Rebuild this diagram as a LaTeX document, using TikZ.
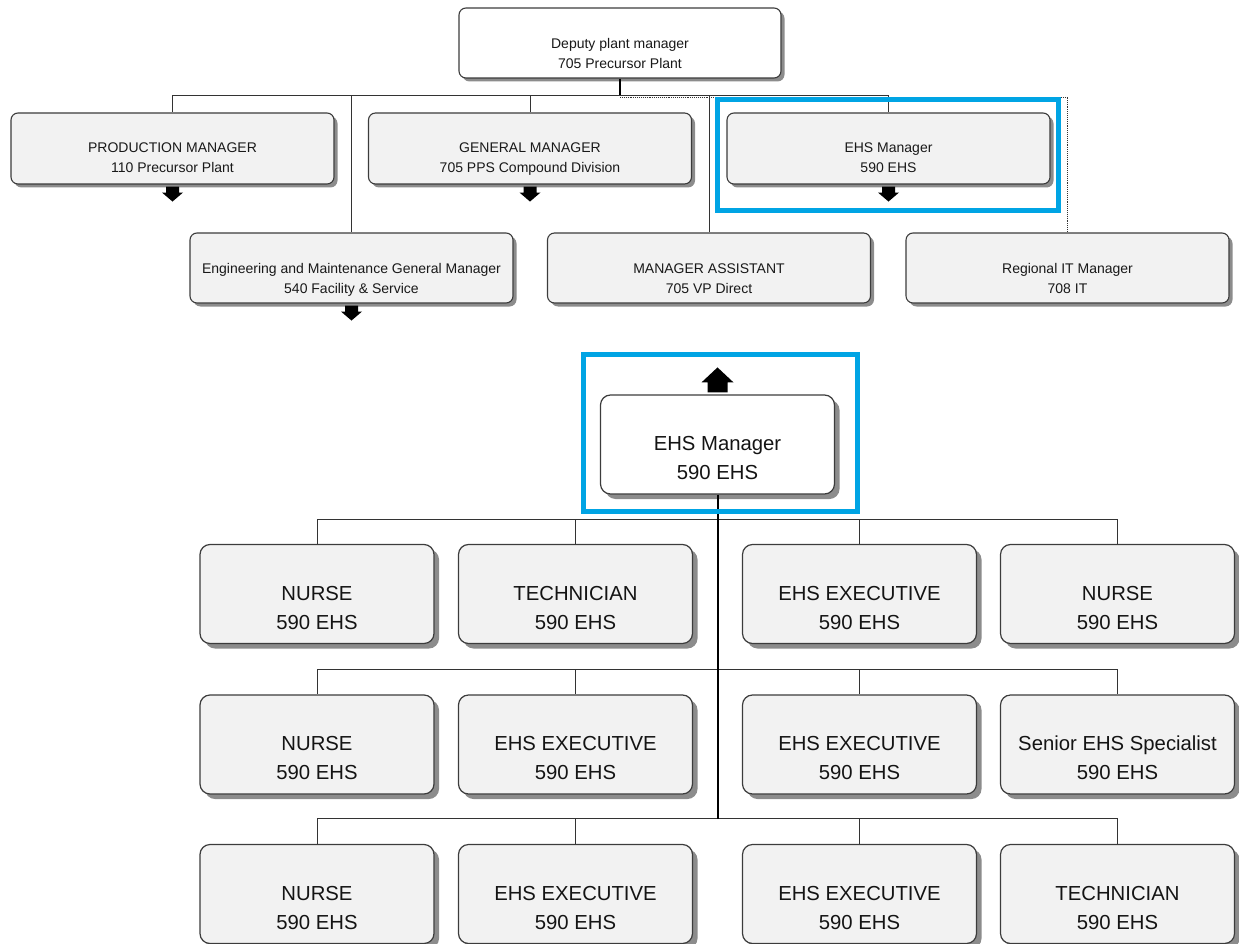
\documentclass[tikz,border=0pt]{standalone}
\usepackage{fontspec}
\setmainfont{Liberation Sans}
\usetikzlibrary{shadows}
\definecolor{hl}{RGB}{0,164,228}
\definecolor{boxfill}{RGB}{242,242,242}
\definecolor{boxline}{RGB}{60,60,60}
\begin{document}
\begin{tikzpicture}[x=1pt,y=-1pt,
  smallcard/.style={draw=boxline, line width=1.1pt, fill=boxfill, rounded corners=7pt, inner sep=0pt,
    minimum width=323pt, minimum height=71pt,
    drop shadow={shadow xshift=3.5pt, shadow yshift=-3.5pt, fill=black!45, opacity=1}},
  bigcard/.style={draw=boxline, line width=1.2pt, fill=boxfill, rounded corners=10pt, inner sep=0pt,
    minimum width=234pt, minimum height=99pt,
    drop shadow={shadow xshift=5pt, shadow yshift=-5pt, fill=black!45, opacity=1}},
  stxt/.style={font=\fontsize{14}{20}\selectfont, align=center, text=black!90, inner sep=0pt, text height=10pt, text depth=3pt},
  btxt/.style={font=\fontsize{20.3}{29}\selectfont, align=center, text=black!92, inner sep=0pt, text height=15pt, text depth=4pt},
  link/.style={draw=black!80, line width=0.9pt},
  trunk/.style={draw=black, line width=2pt},
  hlbox/.style={draw=hl, line width=5pt},
  downarr/.pic={\fill[black] (-6.5,0) -- (6.5,0) -- (6.5,6) -- (10.5,6) -- (0,15) -- (-10.5,6) -- (-6.5,6) -- cycle;},
  uparr/.pic={\fill[black] (-10,0) -- (10,0) -- (10,-10) -- (16,-10) -- (0,-25) -- (-16,-10) -- (-10,-10) -- cycle;}
]
\useasboundingbox (0,0) rectangle (1239,944);

% ---------- top chart ----------
\node[smallcard, fill=white, minimum width=322pt, minimum height=70pt] (dep) at (620,43) {};
\node[stxt] (depT) at ([yshift=-22pt]dep.center) {Deputy plant manager\\705 Precursor Plant};

\node[smallcard] (prod) at (172.5,148.5) {};
\node[stxt] (prodT) at ([yshift=-21pt]prod.center) {PRODUCTION MANAGER\\110 Precursor Plant};
\node[smallcard] (gen) at (530,148.5) {};
\node[stxt] (genT) at ([yshift=-21pt]gen.center) {GENERAL MANAGER\\705 PPS Compound Division};
\node[smallcard] (ehsA) at (888.5,148.5) {};
\node[stxt] (ehsAT) at ([yshift=-21pt]ehsA.center) {EHS Manager\\590 EHS};

\node[smallcard, minimum height=70pt] (eng) at (351.5,268) {};
\node[stxt] (engT) at ([yshift=-22pt]eng.center) {Engineering and Maintenance General Manager\\540 Facility \& Service};
\node[smallcard, minimum height=70pt] (ma) at (709,268) {};
\node[stxt] (maT) at ([yshift=-22pt]ma.center) {MANAGER ASSISTANT\\705 VP Direct};
\node[smallcard, minimum height=70pt] (it) at (1067.5,268) {};
\node[stxt] (itT) at ([yshift=-22pt]it.center) {Regional IT Manager\\708 IT};

\draw[trunk, line width=1.6pt] (dep.south) -- ++(0,17) coordinate (j0);
\draw[link] (j0) -| (prod.north);
\draw[link] (j0) -| (gen.north);
\draw[link] (j0) -| (ehsA.north);
\draw[link] (j0) -| (eng.north);
\draw[link] (j0) -| (ma.north);
\draw[link, densely dotted] ([yshift=-1.5pt]j0) -| (it.north);

\pic at ([yshift=-2pt]prod.south) {downarr};
\pic at ([yshift=-2pt]gen.south) {downarr};
\pic at ([yshift=-2pt]ehsA.south) {downarr};
\pic at ([yshift=-2pt]eng.south) {downarr};

\draw[hlbox] (717,100) rectangle (1058,211);

% ---------- bottom chart ----------
\node[bigcard, fill=white] (ehsB) at (717.5,444.5) {};
\node[btxt] (ehsBT) at ([yshift=-29.5pt]ehsB.center) {EHS Manager\\590 EHS};
\pic at ([yshift=2pt]ehsB.north) {uparr};

% row A
\node[bigcard] (a1) at (317,594) {};
\node[btxt] (a1T) at ([yshift=-29.5pt]a1.center) {NURSE\\590 EHS};
\node[bigcard] (a2) at (575.5,594) {};
\node[btxt] (a2T) at ([yshift=-29.5pt]a2.center) {TECHNICIAN\\590 EHS};
\node[bigcard] (a3) at (859.5,594) {};
\node[btxt] (a3T) at ([yshift=-29.5pt]a3.center) {EHS EXECUTIVE\\590 EHS};
\node[bigcard] (a4) at (1117.5,594) {};
\node[btxt] (a4T) at ([yshift=-29.5pt]a4.center) {NURSE\\590 EHS};
% row B
\node[bigcard] (b1) at (317,744.5) {};
\node[btxt] (b1T) at ([yshift=-29.5pt]b1.center) {NURSE\\590 EHS};
\node[bigcard] (b2) at (575.5,744.5) {};
\node[btxt] (b2T) at ([yshift=-29.5pt]b2.center) {EHS EXECUTIVE\\590 EHS};
\node[bigcard] (b3) at (859.5,744.5) {};
\node[btxt] (b3T) at ([yshift=-29.5pt]b3.center) {EHS EXECUTIVE\\590 EHS};
\node[bigcard] (b4) at (1117.5,744.5) {};
\node[btxt] (b4T) at ([yshift=-29.5pt]b4.center) {Senior EHS Specialist\\590 EHS};
% row C
\node[bigcard] (c1) at (317,894) {};
\node[btxt] (c1T) at ([yshift=-29.5pt]c1.center) {NURSE\\590 EHS};
\node[bigcard] (c2) at (575.5,894) {};
\node[btxt] (c2T) at ([yshift=-29.5pt]c2.center) {EHS EXECUTIVE\\590 EHS};
\node[bigcard] (c3) at (859.5,894) {};
\node[btxt] (c3T) at ([yshift=-29.5pt]c3.center) {EHS EXECUTIVE\\590 EHS};
\node[bigcard] (c4) at (1117.5,894) {};
\node[btxt] (c4T) at ([yshift=-29.5pt]c4.center) {TECHNICIAN\\590 EHS};

\path (ehsB.south) ++(0,25) coordinate (ja) ++(0,150) coordinate (jb) ++(0,149) coordinate (jc);
\foreach \n in {a1,a2,a3,a4} \draw[link] (ja) -| (\n.north);
\foreach \n in {b1,b2,b3,b4} \draw[link] (jb) -| (\n.north);
\foreach \n in {c1,c2,c3,c4} \draw[link] (jc) -| (\n.north);
\draw[trunk] (ehsB.south) -- (jc);

\draw[hlbox] (583,354) rectangle (857,511);
\end{tikzpicture}
\end{document}
